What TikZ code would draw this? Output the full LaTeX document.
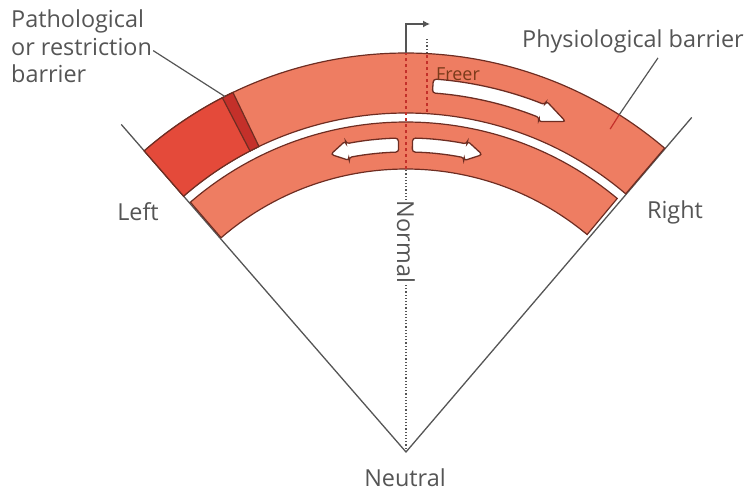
\documentclass[tikz,border=0pt]{standalone}
\usepackage{fontspec}
\setmainfont{Open Sans}
\definecolor{band1}{HTML}{EE7D62}
\definecolor{block1}{HTML}{E44A3A}
\definecolor{stripe1}{HTML}{C4302A}
\definecolor{edge1}{HTML}{6E2D22}
\definecolor{gray1}{HTML}{555555}
\definecolor{brown1}{HTML}{7A3A1A}
\usetikzlibrary{arrows.meta}

% band between two radii and two angles
\newcommand{\bandshape}[5]{%
  \draw[#1] (#2:#4) arc[start angle=#2, end angle=#3, radius=#4]
    -- (#3:#5) arc[start angle=#3, end angle=#2, radius=#5] -- cycle;}
% bent white arrow: radius, half body, half head, tail, head start, tip
\newcommand{\bentarrow}[6]{%
  \draw[arrowbox] ({#4}:{#1+#2}) arc[start angle=#4, end angle=#5, radius=#1+#2]
    -- ({#5}:{#1+#3}) -- ({#6}:{#1}) -- ({#5}:{#1-#3})
    -- ({#5}:{#1-#2}) arc[start angle=#5, end angle=#4, radius=#1-#2] -- cycle;}

\begin{document}
\begin{tikzpicture}[
  x=1bp, y=1bp,
  lbl/.style     = {text=gray1, font=\fontsize{23.5}{27.5}\selectfont, inner sep=1pt},
  ray/.style     = {draw=gray1, line width=1.3pt},
  bandbox/.style = {draw=edge1, fill=band1, line width=1.2pt},
  arrowbox/.style= {draw=edge1, fill=white, line width=1.3pt, rounded corners=3pt},
  lead/.style    = {draw=gray1, line width=1.2pt},
  barmark/.style = {draw=stripe1, line width=1.2pt, dashed}
]
\useasboundingbox (-406,-42) rectangle (341,452);

% ── RAYS ────────────────────────────────────────────────
\coordinate (neutralpt) at (0,0);
\coordinate (lend) at (131:434);
\coordinate (rend) at (49.5:440);
\draw[ray] (lend) -- (neutralpt) -- (rend);
\draw[draw=gray1, line width=1.2pt, dotted] (neutralpt) -- (0,283);

% ── BANDS ───────────────────────────────────────────────
\bandshape{bandbox}{131}{49.6}{399}{339}
\bandshape{bandbox}{130.8}{50.2}{330}{283}
\bandshape{bandbox, fill=block1}{131}{116}{399}{339}
\bandshape{bandbox, fill=stripe1}{117.4}{115.7}{399}{339}

% ── ARROWS ──────────────────────────────────────────────
\bentarrow{367}{7}{11}{85.8}{68.2}{64.2}
\bentarrow{307}{7}{10}{91.4}{101}{104.2}
\bentarrow{307}{7}{10}{88.8}{78.8}{75.6}

% ── NORMAL / FREER MARKS ────────────────────────────────
\draw[barmark] (0,283) -- (0,399);
\draw[barmark] (21,340) -- (21,399);
\draw[draw=gray1, line width=1.2pt, dotted] (21,399) -- (21,413);
\coordinate (topbend) at (0,428);
\coordinate (toptip) at (24,428);
\draw[draw=gray1, line width=1.2pt, -{Latex[length=7pt, width=7pt]}]
     (0,399) -- (topbend) -- (toptip);

% ── LABELS ──────────────────────────────────────────────
\node[lbl, anchor=north west, align=left] (patho) at (-396,443)
     {Pathological\\or restriction\\barrier};
\node[lbl] (physio) at (227,411) {Physiological barrier};
\node[lbl] (left) at (-268,240) {Left};
\node[lbl] (right) at (269,240) {Right};
\node[lbl] (neutral) at (-1,-26) {Neutral};
\node[lbl, rotate=-90, fill=white] (normal) at (0,210) {Normal};
\node[text=brown1, font=\fontsize{18}{20}\selectfont] (freer) at (52,378) {Freer};

% ── LEADERS ─────────────────────────────────────────────
\coordinate (pbar) at (117:399);
\coordinate (phtop) at (57.7:399);
\coordinate (phin) at (57.7:382);
\draw[lead] ([yshift=-4bp]patho.east) -- (pbar);
\draw[lead] ([xshift=25bp, yshift=-4bp]physio.south) -- (phtop);
\draw[draw=stripe1, line width=1.2pt] (phtop) -- (phin);

\end{tikzpicture}
\end{document}
